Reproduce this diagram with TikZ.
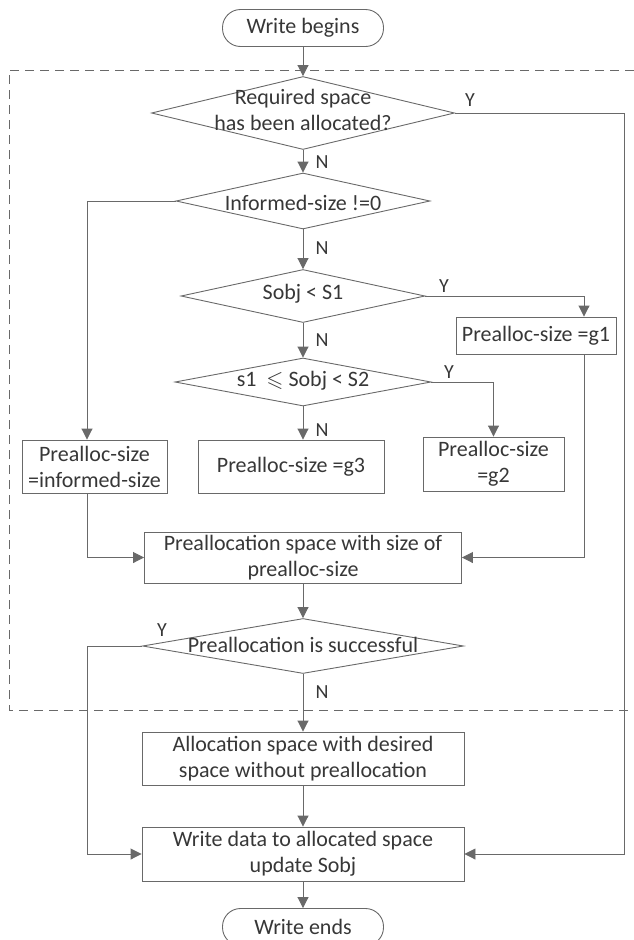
\documentclass[tikz,border=0pt]{standalone}
\usepackage{amssymb}
\usepackage{fontspec}
\setmainfont{Carlito}
\usetikzlibrary{arrows.meta,shapes.geometric}
\definecolor{linegray}{RGB}{105,105,105}
\definecolor{textgray}{RGB}{55,55,55}

\begin{document}
\begin{tikzpicture}[x=1pt, y=-1pt,
    line/.style={linegray, line width=0.9pt},
    arr/.style={line, -{Triangle[length=11pt,width=11pt]}},
    proc/.style={draw=linegray, line width=0.9pt, rectangle, inner sep=0pt, text=textgray, align=center, font=\fontsize{22}{26}\selectfont},
    term/.style={proc, rounded corners=18pt},
    decision/.style={draw=linegray, line width=0.9pt, diamond, inner sep=0pt},
    dtext/.style={text=textgray, align=center, font=\fontsize{22}{26}\selectfont},
    yn/.style={text=textgray, font=\fontsize{20}{24}\selectfont}]
    \useasboundingbox (0,0) rectangle (634,940);

    % Dashed frame (open to the right)
    \draw[line, dash pattern=on 9pt off 6pt] (634,70) -- (9,70) -- (9,710) -- (634,710);

    % Terminals
    \node[term, minimum width=161, minimum height=37] (start) at (303,28) {Write begins};
    \node[term, minimum width=161, minimum height=37] (stop) at (303,927) {Write ends};

    % Decisions
    \node[decision, minimum width=303, minimum height=73] (alloc) at (303,113) {};
    \node[dtext] (alloctxt) at (303,110) {Required space\\has been allocated?};
    \node[decision, minimum width=254, minimum height=56] (informed) at (303,201) {};
    \node[dtext] (informedtxt) at (303,203) {Informed-size !=0};
    \node[decision, minimum width=244, minimum height=53] (small) at (303,296) {};
    \node[dtext] (smalltxt) at (303,294) {Sobj < S1};
    \node[decision, minimum width=256, minimum height=48] (medium) at (303,382) {};
    \node[dtext] (mediumtxt) at (303,381) {s1\ \ $\leqslant$ Sobj < S2};
    \node[decision, minimum width=321, minimum height=55] (success) at (303,646) {};
    \node[dtext] (successtxt) at (303,645) {Preallocation is successful};

    % Size choices
    \node[proc, minimum width=145, minimum height=53] (sizeinf) at (94.5,466.5) {Prealloc-size\\=informed-size};
    \node[proc, minimum width=160, minimum height=37] (sizeg1) at (536,335.5) {Prealloc-size =g1};
    \node[proc, minimum width=141, minimum height=54] (sizeg2) at (493.5,464) {Prealloc-size\\=g2};
    \node[proc, minimum width=186, minimum height=53] (sizeg3) at (291,466.5) {Prealloc-size =g3};

    % Allocation and writing
    \node[proc, minimum width=317, minimum height=51] (prealloc) at (303,557.5) {Preallocation space with size of\\prealloc-size};
    \node[proc, minimum width=322, minimum height=53] (direct) at (303,758.5) {Allocation space with desired\\space without preallocation};
    \node[proc, minimum width=322, minimum height=54] (writedata) at (303,854) {Write data to allocated space\\update Sobj};

    % Main flow
    \draw[arr] (start.south) -- (alloc.north);
    \draw[arr] (alloc.south) -- (informed.north);
    \draw[arr] (informed.south) -- (small.north);
    \draw[arr] (small.south) -- (medium.north);
    \draw[arr] (medium.south) -- (medium.south |- sizeg3.north);
    \draw[arr] (prealloc.south) -- (success.north);
    \draw[arr] (success.south) -- (direct.north);
    \draw[arr] (direct.south) -- (writedata.north);
    \draw[arr] (writedata.south) -- (stop.north);

    % Branches
    \coordinate (leftbus) at (87,0);
    \coordinate (g1bus) at (584,0);
    \coordinate (rightbus) at (624,0);
    \draw[arr] (alloc.east) -- (rightbus |- alloc.east) |- (writedata.east);
    \draw[arr] (informed.west) -- (leftbus |- informed.west) -- (leftbus |- sizeinf.north);
    \draw[arr] (leftbus |- sizeinf.south) |- (prealloc.west);
    \draw[arr] (small.east) -- (g1bus |- small.east) -- (g1bus |- sizeg1.north);
    \draw[arr] (g1bus |- sizeg1.south) |- (prealloc.east);
    \draw[arr] (medium.east) -| (sizeg2.north);
    \draw[arr] (success.west) -- (leftbus |- success.west) |- (writedata.west);

    % Y/N labels
    \node[yn] (ya) at (470,100) {Y};
    \node[yn] (na) at (322,162) {N};
    \node[yn] (nb) at (322,248) {N};
    \node[yn] (yc) at (444,286) {Y};
    \node[yn] (nc) at (322,340) {N};
    \node[yn] (yd) at (449,372) {Y};
    \node[yn] (nd) at (322,430) {N};
    \node[yn] (ye) at (162,630) {Y};
    \node[yn] (ne) at (322,692) {N};

\end{tikzpicture}
\end{document}
